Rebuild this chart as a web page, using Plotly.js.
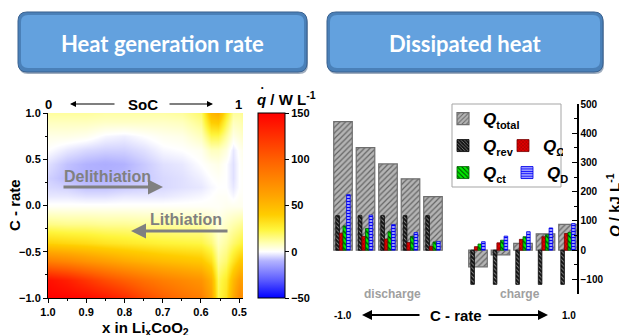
<!DOCTYPE html>
<html><head><meta charset="utf-8">
<script src="https://cdn.plot.ly/plotly-3.0.1.min.js"></script>
<style>html,body{margin:0;padding:0;background:#fff;}#chart{width:619px;height:335px;}</style>
</head><body><div id="chart"></div>
<script>
const W = 619, H = 335;
const px = x => x / W, py = y => 1 - y / H;
const FONT = 'Liberation Sans, Arial, sans-serif';

// ---- Heat generation rate map ----
const xLi = [1.0, 0.95, 0.9, 0.85, 0.8, 0.75, 0.7, 0.65, 0.6, 0.575, 0.555, 0.535, 0.515, 0.5, 0.49];
const cRate = [-1.0, -0.8, -0.6, -0.4, -0.2, 0.0, 0.1, 0.2, 0.3, 0.45, 0.6, 0.75, 0.9, 1.0];
const qdot = [
  [150, 148, 145, 138, 128, 112, 100, 90, 82, 62, 22, 32, 58, 76, 72],
  [142, 134, 122, 110, 100, 90, 82, 76, 70, 54, 20, 28, 50, 64, 62],
  [82, 77, 70, 64, 58, 53, 49, 46, 43, 33, 13, 18, 31, 41, 43],
  [38, 36, 34, 31, 29, 27, 25, 24, 23, 17, 8, 12, 18, 22, 25],
  [15, 14, 14, 13, 13, 12, 12, 11, 11, 8, 4, 7, 10, 12, 14],
  [1, 1, 1, 1, 1, 1, 1, 1, 1, 1, 1, 2, 2, 2, 2],
  [-3, -3, -4, -4, -3, -3, -3, -2, -1, 0, 1, 1, -1, 1, 1],
  [-5, -6, -8, -8, -7, -6, -5, -4, -3, -1, 0, 0, -3, 0, 1],
  [-6, -9, -10, -10, -9, -7, -5, -4, -2, 0, 1, 0, -4, 0, 1],
  [-4, -8, -10, -11, -10, -7, -4, -3, 0, 2, 3, 0, -4, 0, 2],
  [0, -3, -5, -6, -6, -4, -1, 0, 2, 8, 8, 4, -3, 1, 3],
  [3, 3, 2, -1, -2, 0, 2, 3, 8, 22, 22, 12, 3, 5, 7],
  [8, 8, 8, 7, 7, 7, 7, 8, 14, 40, 42, 22, 8, 9, 11],
  [12, 12, 12, 11, 11, 11, 11, 12, 18, 50, 55, 30, 12, 12, 14]
];
const xTicks = [1.0, 0.9, 0.8, 0.7, 0.6, 0.5];
const yTicks = [-1.0, -0.5, 0.0, 0.5, 1.0];
const cbTicks = [-50, 0, 50, 100, 150];

// ---- Dissipated heat bars ----
const cLabels = [-1.0, -0.8, -0.6, -0.4, -0.2, 0.2, 0.4, 0.6, 0.8, 1.0];
const qTotal = [440, 351, 295, 244, 183, -57, -16, 23, 56, 88];
const qRev = [118, 118, 118, 118, 118, -117, -117, -117, -117, -117];
const qOhm = [58, 47, 38, 26, 13, 12, 25, 37, 46, 57];
const qCt = [83, 74, 63, 47, 28, 21, 34, 46, 53, 60];
const qD = [190, 120, 88, 60, 30, 29, 48, 63, 76, 91];

const colorscale = [
  [0, 'rgb(0,0,255)'], [0.1, 'rgb(95,95,255)'], [0.2, 'rgb(178,178,255)'],
  [0.25, 'rgb(255,255,255)'], [0.3, 'rgb(255,255,175)'], [0.37, 'rgb(255,245,60)'],
  [0.45, 'rgb(255,205,0)'], [0.55, 'rgb(255,165,0)'], [0.75, 'rgb(255,95,0)'], [1, 'rgb(255,0,0)']
];

const heat = {
  type: 'heatmap', x: xLi, y: cRate, z: qdot, zmin: -50, zmax: 150, zsmooth: 'best',
  colorscale: colorscale, xaxis: 'x', yaxis: 'y', hoverinfo: 'skip',
  colorbar: {
    x: px(258), xanchor: 'left', y: py(113), yanchor: 'top', len: (298 - 113) / H, lenmode: 'fraction',
    thickness: 27, thicknessmode: 'pixels', xpad: 0, ypad: 0, outlinewidth: 1, outlinecolor: 'black',
    tickvals: cbTicks, ticks: 'outside', ticklen: 4, tickcolor: 'black',
    tickfont: {family: FONT, size: 11, weight: 'bold', color: 'black'}
  }
};

const W_TOT = 0.165, W_N = 0.032;
function narrow(name, y, i, bg, fg, shape, size, sol, line, legend) {
  return {
    type: 'bar', name: name, x: cLabels, y: y, xaxis: 'x2', yaxis: 'y2',
    width: W_N, offset: -2 * W_N + i * W_N, legend: legend, hoverinfo: 'skip',
    marker: {color: bg, line: {color: line, width: 0.8},
      pattern: {shape: shape, bgcolor: bg, fgcolor: fg, size: size, solidity: sol, fillmode: 'replace'}}
  };
}
const sub = s => '<sub><span style="font-size:11px">' + s + '</span></sub>';
const total = {
  type: 'bar', name: '<b><i>Q</i>' + sub('total') + '</b>', x: cLabels, y: qTotal, xaxis: 'x2', yaxis: 'y2',
  width: W_TOT, offset: -W_TOT / 2, legend: 'legend', hoverinfo: 'skip',
  marker: {color: 'rgb(175,175,175)', line: {color: 'rgb(110,110,110)', width: 1.2},
    pattern: {shape: '/', bgcolor: 'rgb(180,180,180)', fgcolor: 'rgb(100,100,100)', size: 4, solidity: 0.3, fillmode: 'replace'}}
};
const rev = narrow('<b><i>Q</i>' + sub('rev') + '</b>', qRev, 0, 'rgb(20,20,20)', 'rgb(140,140,140)', '\\', 3, 0.3, 'black', 'legend2');
const ohm = narrow('<b><i>Q</i>' + sub('Ω') + '</b>', qOhm, 1, 'rgb(225,0,0)', 'rgb(110,0,0)', 'x', 3, 0.25, 'rgb(120,0,0)', 'legend2');
const ct = narrow('<b><i>Q</i>' + sub('ct') + '</b>', qCt, 2, 'rgb(0,235,0)', 'rgb(0,60,0)', '\\', 4, 0.3, 'rgb(0,90,0)', 'legend3');
const dd = narrow('<b><i>Q</i>' + sub('D') + '</b>', qD, 3, 'rgb(255,255,255)', 'rgb(0,0,255)', '-', 3, 0.6, 'rgb(0,0,230)', 'legend3');

function rr(x0, y0, x1, y1, r) {
  const P = (x, y) => px(x).toFixed(5) + ',' + py(y).toFixed(5);
  return 'M' + P(x0 + r, y0) + ' L' + P(x1 - r, y0) + ' Q' + P(x1, y0) + ' ' + P(x1, y0 + r) +
    ' L' + P(x1, y1 - r) + ' Q' + P(x1, y1) + ' ' + P(x1 - r, y1) +
    ' L' + P(x0 + r, y1) + ' Q' + P(x0, y1) + ' ' + P(x0, y1 - r) +
    ' L' + P(x0, y0 + r) + ' Q' + P(x0, y0) + ' ' + P(x0 + r, y0) + ' Z';
}
function button(x0, y0, x1, y1) {
  return [
    {type: 'path', xref: 'paper', yref: 'paper', path: rr(x0 + 1, y0 + 2, x1 + 1, y1 + 2, 9), fillcolor: 'rgba(40,70,110,0.45)', line: {width: 0}, layer: 'below'},
    {type: 'path', xref: 'paper', yref: 'paper', path: rr(x0, y0, x1, y1, 9), fillcolor: 'rgb(74,128,184)', line: {color: 'rgb(58,98,145)', width: 1}, layer: 'below'},
    {type: 'path', xref: 'paper', yref: 'paper', path: rr(x0 + 3, y0 + 3, x1 - 3, y1 - 4, 7), fillcolor: 'rgb(99,161,222)', line: {width: 0}, layer: 'below'}
  ];
}

function txt(x, y, text, size, opts) {
  return Object.assign({xref: 'paper', yref: 'paper', x: px(x), y: py(y), text: text, showarrow: false,
    xanchor: 'center', yanchor: 'middle', font: {family: FONT, size: size, color: 'black', weight: 'bold'}}, opts || {});
}
function arrow(hx, hy, tx, ty, w, color, head) {
  return {xref: 'paper', yref: 'paper', x: px(hx), y: py(hy), ax: tx - hx, ay: ty - hy, text: '',
    showarrow: true, arrowhead: head || 2, arrowsize: 1, arrowwidth: w, arrowcolor: color, standoff: 0, startstandoff: 0};
}

const annotations = [
  txt(162.5, 43, 'Heat generation rate', 22, {font: {family: 'Lato, sans-serif', size: 22, color: 'white', weight: 'bold'}}),
  txt(465, 43, 'Dissipated heat', 22, {font: {family: 'Lato, sans-serif', size: 22, color: 'white', weight: 'bold'}}),
  txt(48, 104, '0', 13), txt(143, 104, 'SoC', 15), txt(238, 104, '1', 13),
  arrow(70, 104, 116, 104, 1.2, 'black', 2), arrow(213, 104, 168, 104, 1.2, 'black', 2),
  txt(286, 98, '<i>q</i> / W L<sup>-1</sup>', 15),
  txt(262, 87, '•', 7),
  txt(14, 205, 'C - rate', 15, {textangle: -90}),
  txt(145, 328, 'x in Li<sub>x</sub>CoO<sub>2</sub>', 15),
  txt(107, 176, 'Delithiation', 16, {font: {family: FONT, size: 16, color: 'rgb(128,128,128)', weight: 'bold'}}),
  arrow(163, 187, 62, 187, 3, 'rgb(128,128,128)', 2),
  txt(186, 219, 'Lithiation', 16, {font: {family: FONT, size: 16, color: 'rgb(128,128,128)', weight: 'bold'}}),
  arrow(131, 231, 229, 231, 3, 'rgb(128,128,128)', 2),
  txt(392, 294, 'discharge', 12, {font: {family: FONT, size: 12, color: 'rgb(160,160,160)', weight: 'bold'}}),
  txt(520, 294, 'charge', 12, {font: {family: FONT, size: 12, color: 'rgb(160,160,160)', weight: 'bold'}}),
  txt(343, 315, '-1.0', 10), txt(569, 315, '1.0', 10), txt(456, 315, 'C - rate', 15),
  arrow(362, 315, 421, 315, 2, 'black', 2), arrow(548, 315, 487, 315, 2, 'black', 2),
  txt(613, 205, '<i>Q</i> / kJ L<sup>-1</sup>', 15, {textangle: -90})
];

const shapes = [].concat(button(18, 12, 307, 72), button(327, 12, 603, 72), [
  {type: 'rect', xref: 'paper', yref: 'paper', x0: px(452), x1: px(561), y0: py(187), y1: py(104),
    line: {color: 'rgb(165,165,165)', width: 1}, fillcolor: 'rgba(0,0,0,0)'}
]);

const legFont = {family: FONT, size: 17, color: 'black'};
const layout = {
  width: W, height: H, margin: {l: 0, r: 0, t: 0, b: 0, pad: 0, autoexpand: false}, paper_bgcolor: 'white', plot_bgcolor: 'rgba(0,0,0,0)',
  font: {family: FONT, color: 'black'}, barmode: 'overlay', showlegend: true,
  xaxis: {domain: [px(48), px(243)], range: [1.0, 0.49], anchor: 'y', tickvals: xTicks, tickformat: '.1f',
    ticks: 'outside', ticklen: 4, tickcolor: 'black', showline: true, linecolor: 'black', linewidth: 1,
    showgrid: false, zeroline: false, minor: {dtick: 0.05, tick0: 0, ticks: 'outside', ticklen: 2, tickcolor: 'black'},
    tickfont: {family: FONT, size: 11, weight: 'bold'}},
  yaxis: {domain: [py(298), py(113)], range: [-1, 1], anchor: 'x', tickvals: yTicks, tickformat: '.1f',
    ticks: 'outside', ticklen: 4, tickcolor: 'black', showline: true, linecolor: 'black', linewidth: 1,
    showgrid: false, zeroline: false, minor: {dtick: 0.25, tick0: 0, ticks: 'outside', ticklen: 2, tickcolor: 'black'},
    tickfont: {family: FONT, size: 11, weight: 'bold'}},
  xaxis2: {domain: [px(329.5), px(577)], range: [-1.12, 1.08], anchor: 'y2', visible: false},
  yaxis2: {domain: [py(294), py(104)], range: [-150, 500], anchor: 'x2', side: 'right', dtick: 100,
    ticks: 'inside', ticklen: 5, tickcolor: 'black', showline: true, linecolor: 'black', linewidth: 1.5,
    showgrid: false, zeroline: false, minor: {dtick: 50, ticks: 'inside', ticklen: 3, tickcolor: 'black'},
    tickfont: {family: FONT, size: 10, weight: 'bold'}},
  legend: {x: px(443), y: py(119), xanchor: 'left', yanchor: 'middle', bgcolor: 'rgba(0,0,0,0)', font: legFont},
  legend2: {orientation: 'h', entrywidth: 15, entrywidthmode: 'pixels', x: px(443), y: py(146), xanchor: 'left', yanchor: 'middle', bgcolor: 'rgba(0,0,0,0)', font: legFont},
  legend3: {orientation: 'h', entrywidth: 19, entrywidthmode: 'pixels', x: px(443), y: py(173), xanchor: 'left', yanchor: 'middle', bgcolor: 'rgba(0,0,0,0)', font: legFont},
  shapes: shapes, annotations: annotations
};

Plotly.newPlot('chart', [heat, total, rev, ohm, ct, dd], layout, {staticPlot: true, displayModeBar: false});
</script>
</body></html>
